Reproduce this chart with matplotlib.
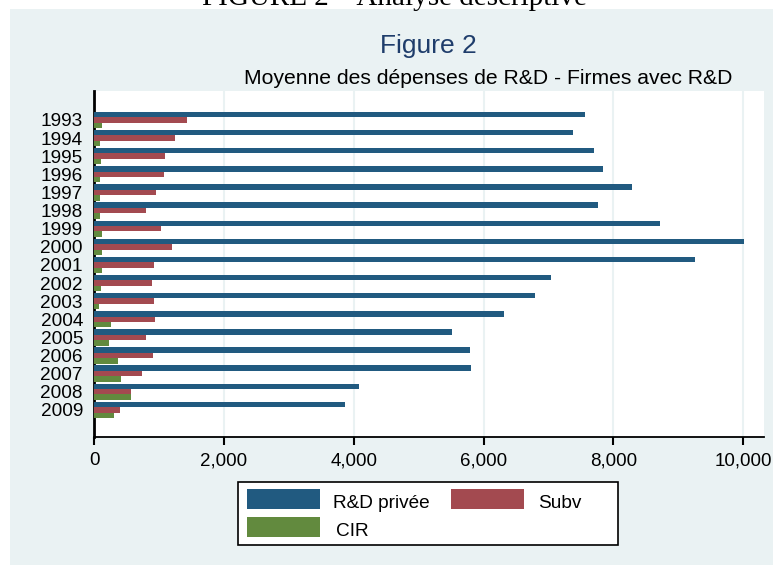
import matplotlib
matplotlib.use("Agg")
import matplotlib.pyplot as plt
import numpy as np
from matplotlib.patches import Rectangle
from matplotlib.ticker import FuncFormatter

plt.rcParams['font.family'] = ['Liberation Sans', 'DejaVu Sans']

# Data
years = ['1993', '1994', '1995', '1996', '1997', '1998', '1999', '2000', '2001',
         '2002', '2003', '2004', '2005', '2006', '2007', '2008', '2009']
rd_privee = [7565, 7380, 7704, 7833, 8285, 7756, 8721, 10015, 9260,
             7042, 6795, 6317, 5511, 5798, 5813, 4088, 3867]
subv = [1428, 1253, 1089, 1073, 950, 801, 1037, 1202, 928,
        889, 919, 935, 796, 914, 745, 570, 396]
cir = [118, 88, 103, 88, 88, 88, 123, 118, 118,
       103, 72, 257, 226, 365, 416, 570, 303]
series_names = ['R&D privée', 'Subv', 'CIR']

c_blue = '#215a80'
c_red = '#a34a50'
c_green = '#628a3e'
bg = '#eaf2f3'

W, H = 773, 565
fig = plt.figure(figsize=(W / 100, H / 100), dpi=100, facecolor='white')


def fx(px):
    return px / W


def fy(py):
    return 1 - py / H


# light backdrop of the graph region
fig.add_artist(Rectangle((fx(10), 0), 1 - fx(10), fy(9), transform=fig.transFigure,
                         facecolor=bg, edgecolor='none', zorder=-5))

# cut-off caption from the document page above the graph
fig.text(0.51, fy(5), 'FIGURE 2 – Analyse descriptive', family='Liberation Serif',
         fontsize=21, ha='center', va='baseline')

ax = fig.add_axes([fx(94), fy(437), fx(764 - 94), (437 - 91) / H])
ax.set_facecolor('white')

y = np.arange(len(years))
h = 0.3
ax.barh(y - h, rd_privee, height=h, color=c_blue, zorder=3)
ax.barh(y, subv, height=h, color=c_red, zorder=3)
ax.barh(y + h, cir, height=h, color=c_green, zorder=3)

ax.set_ylim(16 + 1.5, -1.6)
ax.set_xlim(0, 10320)
ax.set_yticks(y)
ax.set_yticklabels(years)
ax.set_xticks([0, 2000, 4000, 6000, 8000, 10000])
ax.xaxis.set_major_formatter(FuncFormatter(lambda v, p: '{:,.0f}'.format(v)))
ax.tick_params(axis='y', length=0, pad=8, labelsize=13.7)
ax.tick_params(axis='x', length=6, width=1.5, pad=5, labelsize=13.5)
ax.grid(axis='x', color=bg, lw=1.5, zorder=1)
ax.set_axisbelow(True)

for s in ['top', 'right']:
    ax.spines[s].set_visible(False)
ax.spines['left'].set_linewidth(2)
ax.spines['bottom'].set_linewidth(1.3)

fig.text(fx(428), fy(46), 'Figure 2', fontsize=19, color='#1f3d6b',
         ha='center', va='center')
fig.text(fx(488), fy(78), 'Moyenne des dépenses de R&D - Firmes avec R&D',
         fontsize=15.2, ha='center', va='center')

# legend box, laid out like the Stata one (two equal columns)
fig.add_artist(Rectangle((fx(238), fy(545)), fx(618 - 238), (545 - 482) / H,
                         transform=fig.transFigure, facecolor='white',
                         edgecolor='black', lw=1.2, zorder=5))
leg_items = [(247, 489, c_blue, 333, 503),
             (451, 489, c_red, 538, 503),
             (247, 517, c_green, 336, 532)]
for name, (sx, sy, col, tx, ty) in zip(series_names, leg_items):
    fig.add_artist(Rectangle((fx(sx), fy(sy + 20)), fx(73), 20 / H,
                             transform=fig.transFigure, facecolor=col,
                             edgecolor='none', zorder=6))
    fig.text(fx(tx), fy(ty), name, fontsize=13.7, ha='left', va='center', zorder=7)

fig.savefig('out.png', dpi=100, facecolor='white')
